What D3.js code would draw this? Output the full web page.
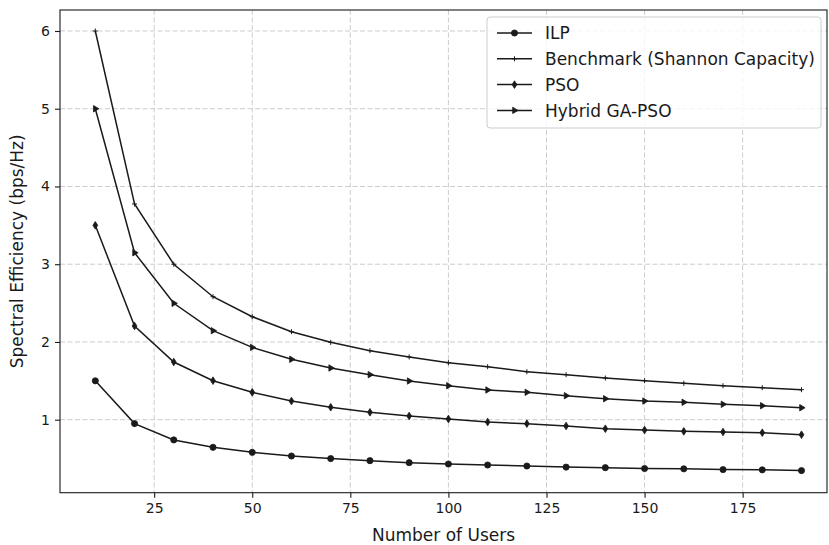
<!DOCTYPE html>
<html lang="en">
<head>
    <meta charset="UTF-8">
    <title>Spectral Efficiency vs Number of Users</title>
    <style>
        body { margin: 0; background: #fff; }
        svg text { font-family: "DejaVu Sans", sans-serif; fill: #1a1a1a; }
        .grid line { stroke: #cccccc; stroke-dasharray: 5,2.5; stroke-width: 1; }
    </style>
</head>
<body>
    <div id="chart"></div>

    <script src="https://d3js.org/d3.v7.min.js"></script>
    <script>
        // Data
        const users = [10, 20, 30, 40, 50, 60, 70, 80, 90, 100, 110, 120, 130, 140, 150, 160, 170, 180, 190];
        const ilp = [1.5, 0.95, 0.74, 0.645, 0.58, 0.533, 0.5, 0.473, 0.447, 0.43, 0.417, 0.404, 0.39, 0.383, 0.372, 0.368, 0.358, 0.355, 0.345];
        const benchmark = [6.0, 3.775, 3.0, 2.582, 2.325, 2.132, 1.995, 1.888, 1.807, 1.733, 1.682, 1.617, 1.579, 1.536, 1.502, 1.468, 1.437, 1.412, 1.386];
        const pso = [3.5, 2.205, 1.742, 1.502, 1.352, 1.24, 1.16, 1.095, 1.048, 1.009, 0.97, 0.949, 0.919, 0.884, 0.867, 0.85, 0.842, 0.833, 0.807];
        const hybrid = [5.0, 3.148, 2.497, 2.145, 1.93, 1.777, 1.665, 1.579, 1.498, 1.437, 1.382, 1.352, 1.309, 1.27, 1.24, 1.224, 1.198, 1.18, 1.154];

        const xTicks = [25, 50, 75, 100, 125, 150, 175];
        const yTicks = [1, 2, 3, 4, 5, 6];
        const seriesNames = ["ILP", "Benchmark (Shannon Capacity)", "PSO", "Hybrid GA-PSO"];
        const seriesValues = [ilp, benchmark, pso, hybrid];
        const markerTypes = ["circle", "plus", "diamond", "triangle"];

        const W = 829, H = 545;
        const margin = { top: 10, right: 2, bottom: 52.3, left: 60 };
        const width = W - margin.left - margin.right;
        const height = H - margin.top - margin.bottom;
        const ink = "#1a1a1a";

        const svg = d3.select("#chart").append("svg")
            .attr("width", W)
            .attr("height", H);

        const g = svg.append("g")
            .attr("transform", `translate(${margin.left},${margin.top})`);

        // Escalas
        const x = d3.scaleLinear().domain([1, 196.5]).range([0, width]);
        const y = d3.scaleLinear().domain([0.061, 6.27]).range([height, 0]);

        // Grid
        g.append("g").attr("class", "grid")
            .selectAll("line").data(xTicks).enter().append("line")
            .attr("x1", d => x(d)).attr("x2", d => x(d))
            .attr("y1", 0).attr("y2", height);
        g.append("g").attr("class", "grid")
            .selectAll("line").data(yTicks).enter().append("line")
            .attr("x1", 0).attr("x2", width)
            .attr("y1", d => y(d)).attr("y2", d => y(d));

        // Eixos
        const xAxis = g.append("g")
            .attr("transform", `translate(0,${height})`)
            .call(d3.axisBottom(x).tickValues(xTicks).tickFormat(d3.format("d")).tickSize(5).tickPadding(5));
        const yAxis = g.append("g")
            .call(d3.axisLeft(y).tickValues(yTicks).tickFormat(d3.format("d")).tickSize(5).tickPadding(5));
        [xAxis, yAxis].forEach(a => {
            a.select(".domain").remove();
            a.selectAll("line").attr("stroke", ink).attr("stroke-width", 1.1);
            a.selectAll("text").style("font-size", "14px").attr("fill", ink);
        });

        // Frame
        g.append("rect")
            .attr("width", width).attr("height", height)
            .attr("fill", "none").attr("stroke", ink).attr("stroke-width", 1.1);

        // Marker shapes
        function markerPath(type) {
            if (type === "circle") return d3.symbol().type(d3.symbolCircle).size(30)();
            if (type === "diamond") return "M0,-3.8L2.4,0L0,3.8L-2.4,0Z";
            if (type === "triangle") return "M3.6,0L-1.8,3.2L-1.8,-3.2Z";
            return "M-2.5,0L2.5,0M0,-2.5L0,2.5";
        }
        function drawMarker(sel, type) {
            sel.append("path")
                .attr("d", markerPath(type))
                .attr("fill", ink)
                .attr("stroke", ink)
                .attr("stroke-width", type === "plus" ? 1 : 0.8);
        }

        const line = d3.line().x((d, i) => x(users[i])).y(d => y(d));

        seriesValues.forEach((vals, s) => {
            g.append("path")
                .datum(vals)
                .attr("d", line)
                .attr("fill", "none")
                .attr("stroke", ink)
                .attr("stroke-width", 1.5);
            vals.forEach((v, i) => {
                const m = g.append("g").attr("transform", `translate(${x(users[i])},${y(v)})`);
                drawMarker(m, markerTypes[s]);
            });
        });

        // Legenda
        const legend = svg.append("g").attr("transform", "translate(487,17)");
        legend.append("rect")
            .attr("width", 334).attr("height", 111)
            .attr("rx", 3).attr("ry", 3)
            .attr("fill", "white").attr("fill-opacity", 0.8)
            .attr("stroke", "#cccccc");
        seriesNames.forEach((name, i) => {
            const row = legend.append("g").attr("transform", `translate(0,${16 + i * 25.8})`);
            row.append("line")
                .attr("x1", 10).attr("x2", 45)
                .attr("stroke", ink).attr("stroke-width", 1.5);
            const m = row.append("g").attr("transform", "translate(27.5,0)");
            drawMarker(m, markerTypes[i]);
            row.append("text")
                .attr("x", 58).attr("dy", "0.36em")
                .style("font-size", "17px")
                .text(name);
        });

        // Rótulos dos eixos
        svg.append("text")
            .attr("x", margin.left + width / 2).attr("y", 541)
            .attr("text-anchor", "middle")
            .style("font-size", "17px")
            .text("Number of Users");
        svg.append("text")
            .attr("transform", `translate(23,${margin.top + height / 2}) rotate(-90)`)
            .attr("text-anchor", "middle")
            .style("font-size", "17px")
            .text("Spectral Efficiency (bps/Hz)");
    </script>
</body>
</html>
